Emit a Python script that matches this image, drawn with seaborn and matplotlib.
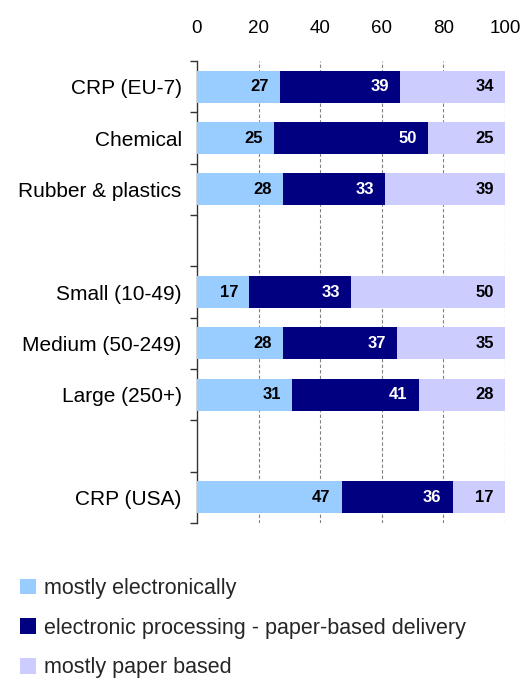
import matplotlib
matplotlib.use("Agg")
import matplotlib.pyplot as plt
from matplotlib.patches import Patch
import numpy as np
import pandas as pd
import seaborn as sns

# Share of enterprises by invoicing mode (%)
categories = ["CRP (EU-7)", "Chemical", "Rubber & plastics",
              "Small (10-49)", "Medium (50-249)", "Large (250+)", "CRP (USA)"]
mostly_electronic = [27, 25, 28, 17, 28, 31, 47]
electronic_processing = [39, 50, 33, 33, 37, 41, 36]
mostly_paper = [34, 25, 39, 50, 35, 28, 17]
series_names = ["mostly electronically",
                "electronic processing - paper-based delivery",
                "mostly paper based"]
x_ticks = [0, 20, 40, 60, 80, 100]

# display order, with empty slots separating the groups
order = ["CRP (EU-7)", "Chemical", "Rubber & plastics", " ",
         "Small (10-49)", "Medium (50-249)", "Large (250+)", "  ", "CRP (USA)"]

colors = ["#99CCFF", "#000080", "#CCCCFF"]

sns.set_theme(style="white")
plt.rcParams["font.family"] = ["Liberation Sans", "DejaVu Sans"]

df = pd.DataFrame({
    "category": categories,
    "s1": mostly_electronic,
    "s2": electronic_processing,
    "s3": mostly_paper,
})
df["c1"] = df["s1"]
df["c2"] = df["s1"] + df["s2"]
df["c3"] = df["s1"] + df["s2"] + df["s3"]

fig = plt.figure(figsize=(5.26, 6.80), dpi=100)
ax = fig.add_axes([197 / 526, 1 - 523 / 680, 308 / 526, 462 / 680])

bar_w = 0.62
for col, color in zip(["c3", "c2", "c1"], colors[::-1]):
    sns.barplot(data=df, y="category", x=col, order=order, orient="h",
                color=color, width=bar_w, saturation=1, ax=ax, zorder=3,
                edgecolor="none", linewidth=0)

# value labels, right-aligned at the end of each segment
pos = {c: i for i, c in enumerate(order)}
for _, r in df.iterrows():
    y = pos[r["category"]]
    segs = [(r["c1"], r["s1"], "black"),
            (r["c2"], r["s2"], "white"),
            (r["c3"], r["s3"], "black")]
    for end, val, tc in segs:
        ax.text(end - 3.6, y, f"{val}", ha="right", va="center",
                fontsize=12, fontweight="bold", color=tc, zorder=4)

ax.set_xlim(0, 100)
ax.set_ylim(len(order) - 0.5, -0.5)
ax.set_xlabel("")
ax.set_ylabel("")
ax.xaxis.tick_top()
ax.set_xticks(x_ticks)
ax.set_xticklabels([str(t) for t in x_ticks])
ax.tick_params(axis="x", length=0, labelsize=13.5, pad=17, colors="black")

ax.set_yticks(range(len(order)))
ax.set_yticklabels(order)
ax.set_yticks(np.arange(-0.5, len(order), 1.0), minor=True)
ax.tick_params(axis="y", which="major", length=0, labelsize=15, pad=11,
               colors="black")
ax.tick_params(axis="y", which="minor", length=5, width=1, color="#333333",
               left=True)

for sp in ["top", "right", "bottom"]:
    ax.spines[sp].set_visible(False)
ax.spines["left"].set_color("#333333")
ax.spines["left"].set_linewidth(1)

for t in x_ticks[1:]:
    ax.axvline(t, color="#808080", linestyle=(0, (3, 2)), linewidth=0.8,
               zorder=1)

handles = [Patch(facecolor=c, edgecolor="none") for c in colors]
fig.legend(handles, series_names, loc="upper left",
           bbox_to_anchor=(20 / 526, 1 - 578 / 680), frameon=False,
           fontsize=15.5, handlelength=0.75, handleheight=0.75,
           handletextpad=0.35, labelspacing=0.87, borderaxespad=0,
           borderpad=0)

fig.savefig("out.png", dpi=100)
